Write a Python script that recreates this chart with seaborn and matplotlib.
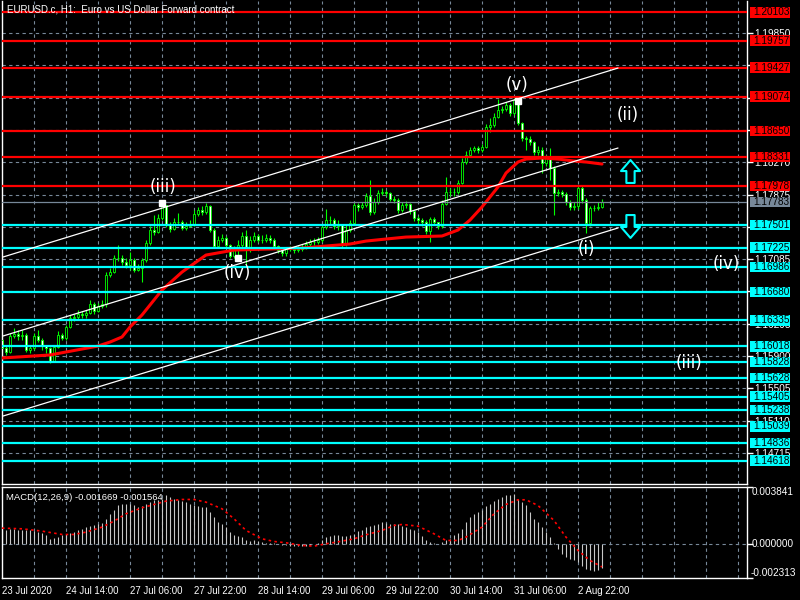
import numpy as np
import pandas as pd
import matplotlib
matplotlib.use("Agg")
import matplotlib.pyplot as plt
import matplotlib.transforms as mtransforms
from matplotlib.patches import Rectangle
from matplotlib.path import Path
import seaborn as sns

# ---------------- data ----------------
title = "EURUSD.c, H1:  Euro vs US Dollar Forward contract"
macd_title = "MACD(12,26,9) -0.001669 -0.001564"

first_open = 1.16096
close = [1.15998, 1.15949, 1.16145, 1.16169, 1.16145, 1.16157, 1.15974, 1.15998, 1.16145, 1.16096,
         1.16035, 1.15998, 1.15839, 1.16010, 1.16157, 1.16120, 1.16255, 1.16365, 1.16377, 1.16414,
         1.16402, 1.16426, 1.16536, 1.16451, 1.16512, 1.16536, 1.16891, 1.16927, 1.17099, 1.17099,
         1.17050, 1.17013, 1.17074, 1.16952, 1.16976, 1.17074, 1.17282, 1.17441, 1.17417, 1.17588,
         1.17747, 1.17502, 1.17453, 1.17539, 1.17539, 1.17466, 1.17490, 1.17514, 1.17637, 1.17686,
         1.17661, 1.17735, 1.17441, 1.17245, 1.17319, 1.17343, 1.17257, 1.17123, 1.17196, 1.17257,
         1.17368, 1.17221, 1.17319, 1.17368, 1.17319, 1.17319, 1.17343, 1.17319, 1.17245, 1.17196,
         1.17160, 1.17209, 1.17209, 1.17196, 1.17209, 1.17221, 1.17270, 1.17294, 1.17294, 1.17319,
         1.17478, 1.17563, 1.17563, 1.17490, 1.17502, 1.17270, 1.17441, 1.17527, 1.17747, 1.17723,
         1.17747, 1.17857, 1.17661, 1.17784, 1.17894, 1.17906, 1.17894, 1.17820, 1.17808, 1.17686,
         1.17747, 1.17759, 1.17674, 1.17588, 1.17563, 1.17539, 1.17429, 1.17576, 1.17539, 1.17490,
         1.17759, 1.17906, 1.17906, 1.17906, 1.18016, 1.18273, 1.18358, 1.18419, 1.18444, 1.18419,
         1.18456, 1.18701, 1.18725, 1.18823, 1.18909, 1.18921, 1.18970, 1.18872, 1.19031, 1.18750,
         1.18566, 1.18554, 1.18517, 1.18395, 1.18419, 1.18261, 1.18322, 1.18200, 1.17894, 1.17906,
         1.17881, 1.17784, 1.17723, 1.17735, 1.17955, 1.17808, 1.17527, 1.17710, 1.17710, 1.17723,
         1.17783]
high = [1.16120, 1.16035, 1.16182, 1.16243, 1.16218, 1.16218, 1.16182, 1.16035, 1.16182, 1.16218,
        1.16120, 1.16035, 1.16010, 1.16035, 1.16206, 1.16182, 1.16279, 1.16402, 1.16414, 1.16463,
        1.16451, 1.16463, 1.16585, 1.16561, 1.16548, 1.16585, 1.16927, 1.16976, 1.17135, 1.17257,
        1.17135, 1.17099, 1.17172, 1.17099, 1.17025, 1.17099, 1.17319, 1.17490, 1.17625, 1.17637,
        1.17784, 1.17747, 1.17539, 1.17588, 1.17649, 1.17563, 1.17539, 1.17563, 1.17686, 1.17723,
        1.17735, 1.17771, 1.17747, 1.17466, 1.17368, 1.17392, 1.17368, 1.17270, 1.17245, 1.17319,
        1.17417, 1.17441, 1.17368, 1.17417, 1.17392, 1.17380, 1.17392, 1.17380, 1.17343, 1.17257,
        1.17221, 1.17233, 1.17245, 1.17245, 1.17257, 1.17270, 1.17306, 1.17331, 1.17343, 1.17355,
        1.17514, 1.17698, 1.17613, 1.17588, 1.17563, 1.17502, 1.17502, 1.17563, 1.17771, 1.17771,
        1.17784, 1.17894, 1.18053, 1.17833, 1.17931, 1.17955, 1.17931, 1.17906, 1.17857, 1.17833,
        1.17784, 1.17796, 1.17771, 1.17686, 1.17613, 1.17588, 1.17563, 1.17600, 1.17600, 1.17539,
        1.17808, 1.18090, 1.17955, 1.17955, 1.18053, 1.18322, 1.18407, 1.18456, 1.18468, 1.18468,
        1.18493, 1.18737, 1.18811, 1.18872, 1.19043, 1.18958, 1.19007, 1.18994, 1.19056, 1.19031,
        1.18762, 1.18591, 1.18591, 1.18530, 1.18468, 1.18456, 1.18358, 1.18444, 1.18224, 1.17943,
        1.17931, 1.17906, 1.17808, 1.17784, 1.17992, 1.17980, 1.17833, 1.17735, 1.17747, 1.17784,
        1.17820]
low = [1.15949, 1.15913, 1.15937, 1.16120, 1.16096, 1.16096, 1.15949, 1.15937, 1.15974, 1.16071,
       1.15974, 1.15937, 1.15815, 1.15827, 1.15998, 1.16096, 1.16096, 1.16243, 1.16328, 1.16353,
       1.16365, 1.16365, 1.16414, 1.16414, 1.16438, 1.16487, 1.16499, 1.16866, 1.16915, 1.17062,
       1.17013, 1.16976, 1.16952, 1.16927, 1.16940, 1.16805, 1.17050, 1.17257, 1.17380, 1.17404,
       1.17563, 1.17478, 1.17417, 1.17441, 1.17514, 1.17441, 1.17441, 1.17478, 1.17490, 1.17613,
       1.17625, 1.17637, 1.17417, 1.17221, 1.17233, 1.17294, 1.17233, 1.17099, 1.17099, 1.17086,
       1.17233, 1.17013, 1.17172, 1.17294, 1.17294, 1.17282, 1.17294, 1.17282, 1.17221, 1.17160,
       1.17123, 1.17123, 1.17184, 1.17160, 1.17172, 1.17184, 1.17209, 1.17245, 1.17257, 1.17270,
       1.17294, 1.17453, 1.17514, 1.17453, 1.17441, 1.17233, 1.17245, 1.17417, 1.17502, 1.17674,
       1.17698, 1.17723, 1.17625, 1.17637, 1.17759, 1.17869, 1.17857, 1.17796, 1.17771, 1.17649,
       1.17661, 1.17710, 1.17637, 1.17551, 1.17514, 1.17490, 1.17392, 1.17294, 1.17502, 1.17453,
       1.17466, 1.17747, 1.17857, 1.17857, 1.17881, 1.18004, 1.18248, 1.18334, 1.18395, 1.18383,
       1.18395, 1.18444, 1.18640, 1.18701, 1.18811, 1.18872, 1.18896, 1.18835, 1.18848, 1.18725,
       1.18530, 1.18419, 1.18481, 1.18358, 1.18358, 1.18138, 1.18224, 1.18053, 1.17625, 1.17857,
       1.17845, 1.17747, 1.17686, 1.17686, 1.17698, 1.17771, 1.17404, 1.17490, 1.17674, 1.17686,
       1.17710]

ma_bar = [0, 12, 24, 27, 30, 32, 35, 38, 40, 45, 51, 58, 75, 81, 87, 91, 96, 101, 110, 114,
          117, 120, 124, 126, 129, 131, 135, 139, 143, 146, 150]
ma_val = [1.15876, 1.15913, 1.16022, 1.16071, 1.16133, 1.16255, 1.16402, 1.16585, 1.16707, 1.16927,
          1.17135, 1.17196, 1.17221, 1.17245, 1.17270, 1.17306, 1.17331, 1.17355, 1.17368, 1.17441,
          1.17563, 1.17723, 1.17967, 1.18138, 1.18273, 1.18309, 1.18322, 1.18309, 1.18285, 1.18273,
          1.18248]

macd_hist = [0.000947, 0.000947, 0.000969, 0.000969, 0.000947, 0.000947, 0.000902, 0.000902, 0.000857, 0.000789,
             0.000721, 0.000564, 0.000338, 0.000406, 0.000451, 0.000564, 0.000631, 0.000721, 0.000789, 0.000902,
             0.001014, 0.001127, 0.001172, 0.001285, 0.001353, 0.001398, 0.001691, 0.002029, 0.002299, 0.002592,
             0.002660, 0.002705, 0.002660, 0.002592, 0.002480, 0.002525, 0.002705, 0.002818, 0.002931, 0.002976,
             0.003043, 0.003269, 0.003156, 0.003043, 0.002976, 0.002886, 0.002818, 0.002660, 0.002592, 0.002525,
             0.002480, 0.002480, 0.002142, 0.001803, 0.001465, 0.001353, 0.001127, 0.000789, 0.000564, 0.000496,
             0.000451, 0.000225, 0.000180, 0.000225, 0.000180, 0.000113, 0.000068, 0.000045, 0.000045, 0.000010,
             -0.000113, -0.000113, -0.000135, -0.000158, -0.000158, -0.000158, -0.000180, -0.000113, -0.000045, 0.000045,
             0.000225, 0.000451, 0.000496, 0.000564, 0.000564, 0.000496, 0.000496, 0.000564, 0.000676, 0.000857,
             0.000947, 0.001127, 0.001172, 0.001240, 0.001353, 0.001465, 0.001398, 0.001353, 0.001353, 0.001307,
             0.001172, 0.001127, 0.001014, 0.000947, 0.000789, 0.000496, 0.000271, 0.000113, 0.000045, -0.000045,
             0.000113, 0.000225, 0.000338, 0.000564, 0.000721, 0.001014, 0.001465, 0.001803, 0.002029, 0.002142,
             0.002254, 0.002525, 0.002705, 0.002886, 0.003043, 0.003156, 0.003269, 0.003269, 0.003336, 0.003043,
             0.002818, 0.002592, 0.002142, 0.001691, 0.001465, 0.001127, 0.000789, 0.000451, 0.000045, -0.000338,
             -0.000676, -0.000902, -0.001014, -0.001127, -0.001240, -0.001533, -0.001691, -0.001803, -0.001849, -0.001758,
             -0.001669]

signal_bar = [0, 5, 10, 15, 18, 21, 25, 28, 31, 35, 38, 41, 45, 48, 51, 55, 58, 61, 65, 68, 71, 75, 78,
              81, 85, 88, 91, 95, 98, 100, 104, 108, 111, 114, 116, 120, 123, 126, 129, 131, 134, 138,
              141, 144, 147, 150]
signal_val = [0.001060, 0.001014, 0.000857, 0.000631, 0.000631, 0.000789, 0.001127, 0.001533, 0.002029,
              0.002435, 0.002660, 0.002886, 0.002998, 0.002998, 0.002818, 0.002367, 0.001691, 0.000902,
              0.000338, 0.000158, 0.000068, -0.000113, -0.000158, 0.000000, 0.000180, 0.000338, 0.000609,
              0.000902, 0.001240, 0.001307, 0.001195, 0.000676, 0.000225, 0.000225, 0.000451, 0.001127,
              0.002029, 0.002660, 0.002976, 0.002976, 0.002592, 0.001578, 0.000451, -0.000451, -0.001127,
              -0.001564]
macd_limits = [-0.002313, 0.003841]

grid_prices = [1.14715, 1.15110, 1.15505, 1.15900, 1.16295, 1.16690, 1.17085,
               1.17480, 1.17875, 1.18270, 1.18665, 1.19060, 1.19455, 1.19850]
# grid labels that the level boxes cover completely in the reference
hidden_grid = [1.16690, 1.17480, 1.18665, 1.19060, 1.19455]
red_levels = [1.20103, 1.19757, 1.19427, 1.19074, 1.18650, 1.18331, 1.17978]
cyan_levels = [1.17501, 1.17225, 1.16986, 1.16680, 1.16335, 1.16018, 1.15828,
               1.15628, 1.15405, 1.15238, 1.15039, 1.14836, 1.14618]
last_price = 1.17783

channel_bars = [0.25, 154.0]
channel_top = [1.17111, 1.19422]
channel_mid = [1.16145, 1.18444]
channel_bot = [1.15166, 1.17466]

wave_text = ["(iii)", "(iv)", "(v)", "(ii)", "(i)", "(iv)", "(iii)"]
wave_bar = [40.25, 58.75, 128.75, 156.5, 146.0, 181.0, 171.75]
wave_price = [1.17967, 1.16915, 1.19214, 1.18848, 1.17209, 1.17025, 1.15815]

pivot_bar = [40.1, 59.1, 128.9]
pivot_price = [1.17777, 1.17105, 1.19025]

arrow_bar = [156.9, 156.9]
arrow_price = [1.18169, 1.17496]

date_bar = [0, 16, 32, 48, 64, 80, 96, 112, 128, 144]
date_labels = ["23 Jul 2020", "24 Jul 14:00", "27 Jul 06:00", "27 Jul 22:00", "28 Jul 14:00",
               "29 Jul 06:00", "29 Jul 22:00", "30 Jul 14:00", "31 Jul 06:00", "2 Aug 22:00"]

# ---------------- style ----------------
sns.set_style("dark", {"axes.facecolor": "black", "figure.facecolor": "black"})
plt.rcParams['font.family'] = ['Liberation Sans', 'DejaVu Sans']

GRID = '#778899'
GREEN = '#00ff00'
W, H = 800, 600
FS = 7.2


def frac(x0, y0, x1, y1):
    return [x0 / W, 1 - y1 / H, (x1 - x0) / W, (y1 - y0) / H]


fig = plt.figure(figsize=(8, 6), dpi=100, facecolor='black')
ax = fig.add_axes(frac(2, 1, 747, 484))
ax2 = fig.add_axes(frac(2, 487, 747, 578))

XMAX = 186.25
for a in (ax, ax2):
    a.set_facecolor('black')
    a.set_xlim(0, XMAX)
    a.grid(False)
    for s in a.spines.values():
        s.set_color('white')
        s.set_linewidth(1.0)
    for b in range(8, 187, 8):
        a.axvline(b, color=GRID, lw=0.8, ls=(0, (3, 3)), zorder=0.5)

ax.spines['top'].set_visible(False)
ax.set_ylim(1.14335, 1.20242)

# horizontal grid
for g in grid_prices:
    ax.axhline(g, color=GRID, lw=0.8, ls=(0, (3, 3)), zorder=0.5)

# candles
n = len(close)
bars = np.arange(n)
opens = [first_open] + close[:-1]
df = pd.DataFrame({"bar": bars, "open": opens, "close": close, "high": high, "low": low})
ax.vlines(df["bar"], df["low"], df["high"], color=GREEN, lw=0.8, zorder=2)
body_h = df["close"] - df["open"]
face = np.where(body_h >= 0, 'black', 'white')
ax.bar(df["bar"], body_h.where(body_h.abs() > 1e-6, 0.00003), bottom=df["open"], width=0.68,
       color=face, edgecolor=GREEN, linewidth=0.6, zorder=3)

# moving average
sns.lineplot(x=ma_bar, y=ma_val, ax=ax, color='red', lw=2.2, zorder=4)

# level lines
for lv in red_levels:
    ax.axhline(lv, color='red', lw=1.6, zorder=5)
for lv in cyan_levels:
    ax.axhline(lv, color='#00ffff', lw=1.6, zorder=5)
ax.axhline(last_price, color=GRID, lw=0.9, zorder=5)

# channel lines
for ch in (channel_top, channel_mid, channel_bot):
    ax.plot(channel_bars, ch, color='white', lw=0.9, zorder=6)

# pivot markers
ax.plot(pivot_bar, pivot_price, ls='none', marker='s', ms=4.5, mfc='white', mec='white', zorder=7)

# wave labels
for t, b, p in zip(wave_text, wave_bar, wave_price):
    ax.text(b, p, t, color='white', fontsize=12, ha='center', va='center',
            family=['DejaVu Sans'], zorder=8)

# arrows
up = Path([(0, 1), (0.83, 0.04), (0.36, 0.04), (0.36, -1), (-0.36, -1), (-0.36, 0.04), (-0.83, 0.04), (0, 1)],
          [Path.MOVETO] + [Path.LINETO] * 6 + [Path.CLOSEPOLY])
down = Path([(x, -y) for x, y in up.vertices], up.codes)
ax.plot([arrow_bar[0]], [arrow_price[0]], marker=up, ms=16.5, mfc='black', mec='#00ffff', mew=1.5,
        ls='none', zorder=8)
ax.plot([arrow_bar[1]], [arrow_price[1]], marker=down, ms=16.5, mfc='black', mec='#00ffff', mew=1.5,
        ls='none', zorder=8)

# right price axis
ax.set_xticks([])
ax.yaxis.tick_right()
ax.set_yticks(grid_prices)
ax.set_yticklabels(['' if g in hidden_grid else f"{g:.5f}" for g in grid_prices])
ax.tick_params(axis='y', colors='white', length=4, width=1, labelsize=FS, pad=1.5, direction='out')

trans = mtransforms.blended_transform_factory(ax.transAxes, ax.transData)
px = 0.0001223
box_x0 = (750 - 2) / 745
box_w = 40 / 745
levels_boxes = [(lv, 'red') for lv in red_levels] + [(lv, '#00ffff') for lv in cyan_levels] + [(last_price, GRID)]
for lv, col in levels_boxes:
    ax.add_patch(Rectangle((box_x0, lv - 5.2 * px), box_w, 10.6 * px, transform=trans,
                           facecolor=col, edgecolor='none', clip_on=False, zorder=20))
    ax.text(box_x0 + 3 / 745, lv, f"{lv:.5f}", transform=trans, color='black', fontsize=FS,
            ha='left', va='center', clip_on=False, zorder=21)

# title
fig.text(7 / W, 1 - 9 / H, title, color='white', fontsize=7.0, ha='left', va='center')

# ---------------- MACD panel ----------------
ax2.set_ylim(macd_limits[0], macd_limits[1])
ax2.axhline(0, color=GRID, lw=0.8, ls=(0, (3, 3)), zorder=0.5)
ax2.vlines(bars, 0, macd_hist, color='#c8c8c8', lw=0.8, zorder=2)
sns.lineplot(x=signal_bar, y=signal_val, ax=ax2, color='red', lw=1.2, linestyle=(0, (1.5, 2.0)), zorder=3)
ax2.set_ylabel('')
ax.set_ylabel('')
ax2.yaxis.tick_right()
ax2.set_yticks([macd_limits[0], 0, macd_limits[1]])
ax2.set_yticklabels(['', '', ''])
ax2.tick_params(axis='y', colors='white', length=4, width=1, direction='out')
trans2 = mtransforms.blended_transform_factory(ax2.transAxes, ax2.transData)
lx = 1 + 5 / 745
ax2.text(lx, macd_limits[1], f"{macd_limits[1]:.6f}", transform=trans2, color='white', fontsize=FS,
         ha='left', va='top', clip_on=False)
ax2.text(lx, 0, "0.000000", transform=trans2, color='white', fontsize=FS, ha='left', va='center',
         clip_on=False)
ax2.text(lx - 1 / 745, macd_limits[0], f"{macd_limits[0]:.6f}", transform=trans2, color='white',
         fontsize=FS, ha='left', va='bottom', clip_on=False)
ax2.text(0.006, 0.93, macd_title, transform=ax2.transAxes, color='white', fontsize=6.8,
         ha='left', va='top')

ax2.set_xticks(date_bar)
ax2.set_xticklabels(date_labels, ha='left')
ax2.tick_params(axis='x', colors='white', length=4, width=1, labelsize=6.9, pad=2, direction='out')

fig.savefig('out.png', dpi=100, facecolor='black')
